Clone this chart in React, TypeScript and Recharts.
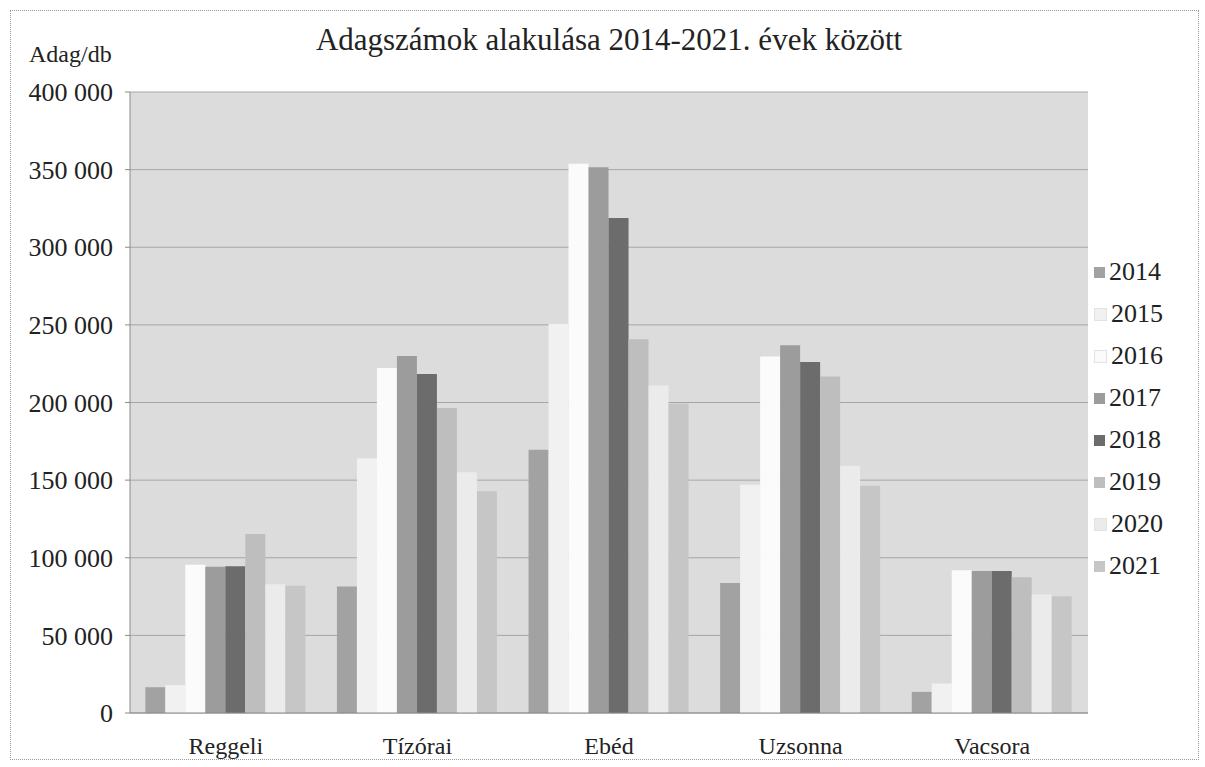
import React from 'react';
import { BarChart, Bar, XAxis, YAxis, CartesianGrid, Legend } from 'recharts';

const categories = ['Reggeli', 'Tízórai', 'Ebéd', 'Uzsonna', 'Vacsora'];
const years = ['2014', '2015', '2016', '2017', '2018', '2019', '2020', '2021'];
const v2014 = [16600, 81500, 169500, 83800, 13600];
const v2015 = [18000, 164000, 250500, 147000, 19000];
const v2016 = [95500, 222300, 353800, 229700, 92000];
const v2017 = [94200, 229900, 351500, 236900, 91400];
const v2018 = [94600, 218400, 318800, 226100, 91400];
const v2019 = [115300, 196500, 240800, 216800, 87500];
const v2020 = [83000, 155000, 210900, 159300, 76300];
const v2021 = [81900, 142900, 199400, 146300, 75200];
const yTicks = [0, 50000, 100000, 150000, 200000, 250000, 300000, 350000, 400000];

const seriesValues = [v2014, v2015, v2016, v2017, v2018, v2019, v2020, v2021];
const colors = ['#a2a2a2', '#f1f1f1', '#fbfbfb', '#9c9c9c', '#6c6c6c', '#bebebe', '#ebebeb', '#c6c6c6'];

const data = categories.map((c, i) => {
  const row: Record<string, string | number> = { name: c };
  years.forEach((y, j) => {
    row[y] = seriesValues[j][i];
  });
  return row;
});

const FONT = '"Liberation Serif", "Times New Roman", serif';
const fmt = (v: number) => String(v).replace(/\B(?=(\d{3})+(?!\d))/g, ' ');

const LegendContent = () => (
  <div style={{ fontFamily: FONT, fontSize: 26, color: '#222', lineHeight: 1 }}>
    {years.map((y, i) => (
      <div key={y} style={{ height: 42, display: 'flex', alignItems: 'center' }}>
        <span
          style={{
            display: 'inline-block',
            width: 11,
            height: 11,
            background: colors[i],
            border: i === 1 || i === 2 || i === 6 ? '1px solid #e2e2e2' : 'none',
            marginRight: 4,
          }}
        />
        <span>{y}</span>
      </div>
    ))}
  </div>
);

export default function App() {
  return (
    <div style={{ position: 'absolute', left: 0, top: 0, width: 1205, height: 767, background: '#fff', fontFamily: FONT }}>
      <div
        style={{
          position: 'absolute',
          left: 10,
          top: 10,
          width: 1189,
          height: 750,
          border: '1px dotted #9a9a9a',
          boxSizing: 'border-box',
        }}
      />
      <div
        style={{
          position: 'absolute',
          left: 0,
          width: 1218,
          top: 22,
          textAlign: 'center',
          fontFamily: FONT,
          fontSize: 31,
          color: '#222',
        }}
      >
        Adagszámok alakulása 2014-2021. évek között
      </div>
      <div
        style={{
          position: 'absolute',
          left: 29,
          top: 41,
          fontFamily: FONT,
          fontSize: 24,
          color: '#222',
        }}
      >
        Adag/db
      </div>
      <div style={{ position: 'absolute', left: 0, top: 0 }}>
        <BarChart
          width={1205}
          height={767}
          data={data}
          margin={{ top: 92, right: 117, bottom: 0, left: 0 }}
          barCategoryGap="8%"
          barGap={0}
          style={{ fontFamily: FONT }}
        >
          <CartesianGrid vertical={false} stroke="#a6a6a6" fill="#dcdcdc" />
          <XAxis
            dataKey="name"
            height={54}
            stroke="#8a8a8a"
            tickLine={false}
            tickMargin={18}
            tick={{ fill: '#222', fontFamily: FONT, fontSize: 24 }}
          />
          <YAxis
            width={130}
            domain={[0, 400000]}
            ticks={yTicks}
            tickFormatter={fmt}
            stroke="#8a8a8a"
            tickSize={5}
            tickMargin={12}
            tick={{ fill: '#222', fontFamily: FONT, fontSize: 26 }}
          />
          <Legend
            layout="vertical"
            align="center"
            verticalAlign="middle"
            content={<LegendContent />}
            wrapperStyle={{ position: 'absolute', left: 1094, top: 251, width: 110 }}
          />
          {years.map((y, i) => (
            <Bar key={y} dataKey={y} fill={colors[i]} isAnimationActive={false} />
          ))}
        </BarChart>
      </div>
    </div>
  );
}
